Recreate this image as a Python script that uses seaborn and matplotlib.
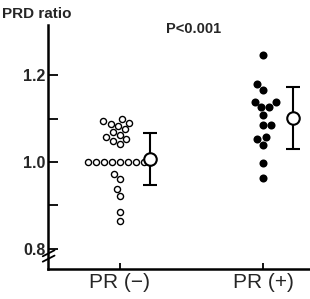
import numpy as np
import pandas as pd
import matplotlib
matplotlib.use("Agg")
import matplotlib.pyplot as plt
import seaborn as sns

categories = ["PR (\u2212)", "PR (+)"]
pr_neg = [1.098, 1.095, 1.090, 1.088, 1.083, 1.075, 1.068, 1.062, 1.058, 1.052, 1.048, 1.042,
          1.0, 1.0, 1.0, 1.0, 1.0, 1.0, 1.0, 1.0, 1.0,
          0.972, 0.961, 0.938, 0.922, 0.885, 0.864]
pr_pos = [1.246, 1.179, 1.166, 1.138, 1.138, 1.126, 1.126, 1.108, 1.085, 1.085,
          1.053, 1.057, 1.039, 0.998, 0.963]
means = [1.007, 1.101]
sds = [0.060, 0.072]
y_ticks = [0.8, 1.0, 1.2]
y_tick_labels = ["0.8", "1.0", "1.2"]
y_minor = [0.9, 1.1]

sns.set_theme(style="white")
plt.rcParams['font.family'] = ['Liberation Sans', 'DejaVu Sans']

df_neg = pd.DataFrame({"group": categories[0], "val": pr_neg})
df_pos = pd.DataFrame({"group": categories[1], "val": pr_pos})

fig = plt.figure(figsize=(3.10, 2.99), dpi=100)
ax = fig.add_axes([48/310, 30/299, 262/310, 244/299])

sns.swarmplot(data=df_neg, x="group", y="val", order=categories, ax=ax,
              color="white", edgecolor="black", linewidth=1.0, size=4.4)
sns.swarmplot(data=df_pos, x="group", y="val", order=categories, ax=ax,
              color="black", size=5.8)

ax.errorbar(np.arange(len(categories)) + 0.21, means, yerr=sds, fmt="o",
            mfc="white", mec="black", mew=1.5, ms=9, color="black",
            elinewidth=1.5, capsize=5, capthick=1.5, zorder=5)

ax.set_xlim(-0.503, 1.329)
ax.set_ylim(0.754, 1.315)
ax.set_yticks(y_ticks)
ax.set_yticklabels(y_tick_labels, fontsize=11.5, fontweight="bold")
ax.set_yticks(y_minor, minor=True)
ax.tick_params(axis="y", which="both", direction="in", length=7, width=1.3,
               left=True, pad=2, color="black")
ax.tick_params(axis="x", direction="in", length=4, width=1.3, bottom=True,
               labelsize=15, pad=3, color="black")
ax.set_xlabel("")
ax.set_ylabel("")
for s in ["top", "right"]:
    ax.spines[s].set_visible(False)
for s in ["left", "bottom"]:
    ax.spines[s].set_linewidth(1.8)
    ax.spines[s].set_color("black")

# axis break mark
for dy in (0.0, 0.022):
    ax.plot([-0.02, 0.025], [0.03 + dy, 0.055 + dy], transform=ax.transAxes,
            color="black", lw=1.3, clip_on=False)

fig.text(2/310, 1 - 14/299, "PRD ratio", fontsize=11, fontweight="bold",
         ha="left", va="center")
fig.text(194/310, 1 - 29/299, "P<0.001", fontsize=10.5, fontweight="bold",
         ha="center", va="center")

fig.savefig("out.png", dpi=100)
